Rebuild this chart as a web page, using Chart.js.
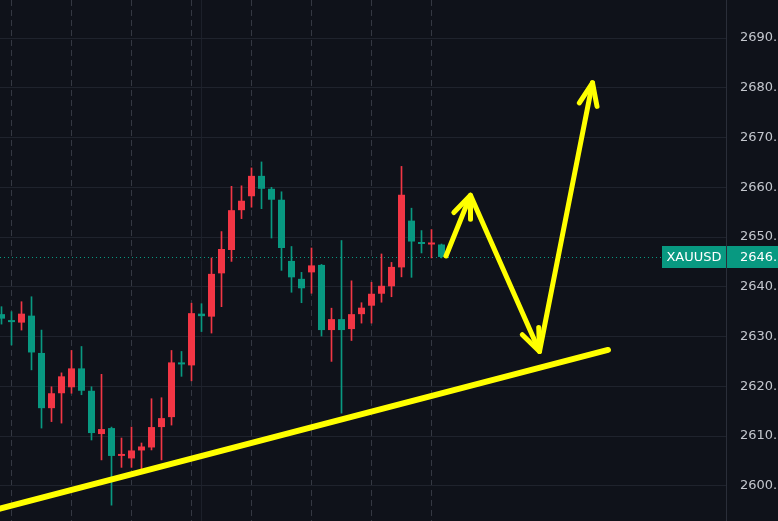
<!DOCTYPE html>
<html>
<head>
<meta charset="utf-8">
<title>XAUUSD</title>
<script src="https://cdn.jsdelivr.net/npm/chart.js@4"></script>
<style>
  html, body { margin: 0; padding: 0; background: #0f121a; overflow: hidden; }
</style>
</head>
<body>
<canvas id="gold-chart" width="778" height="521"></canvas>
<script>
// Candles, one per bar (index 0..44)
const opens  = [2634.5, 2633.3, 2632.8, 2634.2, 2626.7, 2615.6, 2618.6, 2619.8, 2623.6, 2619.1,
                2610.4, 2611.6, 2606.0, 2605.5, 2607.1, 2607.7, 2611.8, 2613.8, 2624.8, 2624.2,
                2634.6, 2634.0, 2642.7, 2647.4, 2655.4, 2658.2, 2662.3, 2659.7, 2657.5, 2645.2,
                2641.6, 2642.9, 2644.4, 2631.3, 2633.5, 2631.5, 2634.5, 2636.2, 2638.6, 2640.1,
                2643.9, 2653.3, 2649.0, 2648.5, 2648.5];
const highs  = [2636.0, 2635.0, 2637.0, 2638.0, 2631.3, 2619.9, 2622.7, 2627.2, 2628.0, 2619.9,
                2622.4, 2611.8, 2609.6, 2611.8, 2608.6, 2617.5, 2617.7, 2627.2, 2627.0, 2636.7,
                2636.6, 2645.8, 2651.1, 2660.2, 2660.3, 2663.9, 2665.1, 2660.0, 2659.1, 2648.1,
                2642.9, 2647.8, 2644.5, 2635.7, 2649.3, 2641.2, 2636.8, 2640.9, 2646.6, 2644.9,
                2664.2, 2655.8, 2651.3, 2651.5, 2648.6];
const lows   = [2632.5, 2628.3, 2631.3, 2623.3, 2611.6, 2612.9, 2612.6, 2618.6, 2618.3, 2609.2,
                2605.2, 2596.1, 2603.7, 2603.7, 2602.8, 2607.2, 2605.2, 2612.2, 2622.0, 2621.1,
                2631.0, 2630.7, 2636.0, 2645.1, 2653.7, 2656.0, 2655.7, 2649.8, 2643.3, 2638.9,
                2636.8, 2638.7, 2630.1, 2625.0, 2614.6, 2629.2, 2632.7, 2632.7, 2636.9, 2638.0,
                2642.0, 2641.9, 2646.8, 2645.8, 2645.8];
const closes = [2633.6, 2632.9, 2634.6, 2626.8, 2615.6, 2618.6, 2622.0, 2623.6, 2619.1, 2610.6,
                2611.4, 2606.0, 2606.3, 2607.1, 2607.9, 2611.8, 2613.6, 2624.8, 2624.4, 2634.7,
                2634.1, 2642.6, 2647.6, 2655.4, 2657.3, 2662.3, 2659.7, 2657.5, 2647.8, 2641.9,
                2639.7, 2644.3, 2631.3, 2633.5, 2631.3, 2634.5, 2635.8, 2638.6, 2640.2, 2644.0,
                2658.5, 2649.1, 2648.6, 2648.6, 2646.0];

// Price axis labels
const priceTicks = [2600, 2610, 2620, 2630, 2640, 2650, 2660, 2670, 2680, 2690];

// Time grid lines (bar index), one of them is the session break
const timeGridBars = [1, 7, 13, 19, 20, 25, 31, 37, 43];
const sessionBreakBar = 20;

// Hand drawn trend line and forecast path (bar index / price)
const trendBars = [-0.15, 60.65];
const trendPrices = [2595.4, 2627.3];
const forecastBars = [44.45, 46.9, 53.8, 59.1];
const forecastPrices = [2646.2, 2658.4, 2627.0, 2681.0];

const symbol = 'XAUUSD';

const GoldChart = {
  colors: {
    bg: '#0f121a',
    up: '#f23645',     // red = rising
    down: '#089981',   // green = falling
    grid: '#1f232d',
    timeGrid: '#343842',
    sessionGrid: '#1c202a',
    axisLine: '#2a2e39',
    label: '#c3c6cd',
    pen: '#ffff00'
  },
  font: 'DejaVu Sans',

  // Build everything
  initialize: function() {
    if (typeof Chart === 'undefined') {
      console.error('Chart.js not loaded');
      return;
    }
    this.createChart();
  },

  // Paint the dark background
  backgroundPlugin: function() {
    const c = this.colors;
    return {
      id: 'background',
      beforeDraw(chart) {
        const ctx = chart.ctx;
        ctx.save();
        ctx.fillStyle = c.bg;
        ctx.fillRect(0, 0, chart.width, chart.height);
        ctx.restore();
      }
    };
  },

  // Dotted last price line plus symbol / price tags
  priceLinePlugin: function() {
    const c = this.colors;
    const font = this.font;
    const last = closes[closes.length - 1];
    return {
      id: 'priceLine',
      beforeDatasetsDraw(chart) {
        const ctx = chart.ctx;
        const area = chart.chartArea;
        const y = Math.round(chart.scales.y.getPixelForValue(last)) + 0.5;
        ctx.save();
        ctx.strokeStyle = c.down;
        ctx.lineWidth = 1;
        ctx.setLineDash([1, 3]);
        ctx.beginPath();
        ctx.moveTo(area.left, y);
        ctx.lineTo(area.right, y);
        ctx.stroke();
        ctx.restore();
      },
      afterDraw(chart) {
        const ctx = chart.ctx;
        const area = chart.chartArea;
        const y = chart.scales.y.getPixelForValue(last);
        const h = 22;
        const top = Math.round(y - h / 2);
        ctx.save();
        ctx.fillStyle = c.down;
        ctx.fillRect(area.right - 64, top, 64, h);
        ctx.fillRect(area.right, top, chart.width - area.right, h);
        ctx.strokeStyle = c.axisLine;
        ctx.lineWidth = 1;
        ctx.beginPath();
        ctx.moveTo(area.right + 0.5, top);
        ctx.lineTo(area.right + 0.5, top + h);
        ctx.stroke();
        ctx.fillStyle = '#ffffff';
        ctx.font = '13px "' + font + '"';
        ctx.textBaseline = 'middle';
        ctx.textAlign = 'center';
        ctx.fillText(symbol, area.right - 32, top + h / 2 + 1);
        ctx.textAlign = 'left';
        ctx.fillText(last.toFixed(1), area.right + 14, top + h / 2 + 1);
        ctx.restore();
      }
    };
  },

  // Arrow heads on every vertex of the forecast path
  arrowPlugin: function(datasetIndex) {
    const c = this.colors;
    return {
      id: 'arrowHeads',
      afterDatasetsDraw(chart) {
        const pts = chart.getDatasetMeta(datasetIndex).data;
        const ctx = chart.ctx;
        const len = 24;
        const spread = 22 * Math.PI / 180;
        ctx.save();
        ctx.strokeStyle = c.pen;
        ctx.lineWidth = 5;
        ctx.lineCap = 'round';
        ctx.beginPath();
        for (let i = 1; i < pts.length; i++) {
          const a = pts[i - 1];
          const b = pts[i];
          const ang = Math.atan2(a.y - b.y, a.x - b.x);
          [-1, 1].forEach(s => {
            ctx.moveTo(b.x, b.y);
            ctx.lineTo(b.x + len * Math.cos(ang + s * spread), b.y + len * Math.sin(ang + s * spread));
          });
        }
        ctx.stroke();
        ctx.restore();
      }
    };
  },

  // Create the candlestick chart
  createChart: function() {
    const c = this.colors;
    const candleColors = closes.map((cl, i) => cl >= opens[i] ? c.up : c.down);

    const wicks = lows.map((l, i) => ({ x: i, y: [l, highs[i]] }));
    const bodies = opens.map((o, i) => ({ x: i, y: [Math.min(o, closes[i]), Math.max(o, closes[i])] }));
    const trend = trendBars.map((b, i) => ({ x: b, y: trendPrices[i] }));
    const forecast = forecastBars.map((b, i) => ({ x: b, y: forecastPrices[i] }));

    const datasets = [
      {
        type: 'line', label: 'forecast', data: forecast, order: 0,
        borderColor: c.pen, borderWidth: 5, pointRadius: 0, tension: 0,
        borderCapStyle: 'round', borderJoinStyle: 'round', fill: false
      },
      {
        type: 'line', label: 'trend', data: trend, order: 0,
        borderColor: c.pen, borderWidth: 6, pointRadius: 0, tension: 0,
        borderCapStyle: 'round', fill: false
      },
      {
        type: 'bar', label: 'wicks', data: wicks, order: 1, grouped: false,
        backgroundColor: candleColors, barThickness: 1, borderWidth: 0
      },
      {
        type: 'bar', label: 'bodies', data: bodies, order: 1, grouped: false,
        backgroundColor: candleColors, barPercentage: 0.7, categoryPercentage: 1,
        minBarLength: 2, borderWidth: 0
      }
    ];

    const canvas = document.getElementById('gold-chart');
    return new Chart(canvas, {
      type: 'bar',
      data: { datasets: datasets },
      options: {
        responsive: false,
        animation: false,
        devicePixelRatio: 1,
        layout: { padding: 0 },
        plugins: {
          legend: { display: false },
          tooltip: { enabled: false }
        },
        scales: {
          x: {
            type: 'linear',
            min: -0.15,
            max: 72.45,
            offset: false,
            afterBuildTicks: s => { s.ticks = timeGridBars.map(v => ({ value: v })); },
            afterFit: s => { s.height = 0; s.paddingLeft = 0; s.paddingRight = 0; },
            ticks: { display: false },
            grid: {
              offset: false,
              drawTicks: false,
              lineWidth: 1,
              color: ctx => (ctx.tick && ctx.tick.value === sessionBreakBar) ? c.sessionGrid : c.timeGrid
            },
            border: {
              display: false,
              dash: ctx => (ctx.tick && ctx.tick.value === sessionBreakBar) ? [] : [6, 4]
            }
          },
          y: {
            type: 'linear',
            position: 'right',
            min: 2592.92,
            max: 2697.65,
            afterBuildTicks: s => { s.ticks = priceTicks.map(v => ({ value: v })); },
            afterFit: s => { s.width = 52; s.paddingTop = 0; s.paddingBottom = 0; },
            ticks: {
              color: c.label,
              padding: 14,
              font: { family: this.font, size: 13 },
              callback: v => v.toFixed(1)
            },
            grid: { color: c.grid, drawTicks: false },
            border: { color: c.axisLine }
          }
        }
      },
      plugins: [this.backgroundPlugin(), this.priceLinePlugin(), this.arrowPlugin(0)]
    });
  }
};

GoldChart.initialize();
</script>
</body>
</html>
